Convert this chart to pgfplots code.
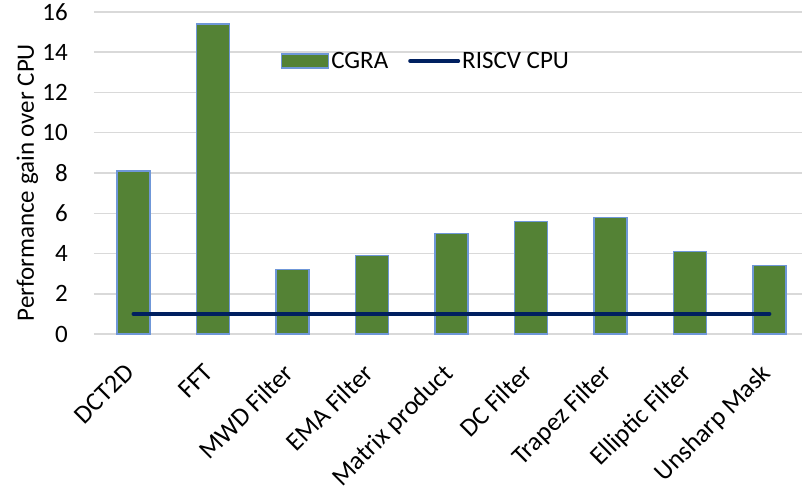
\documentclass[border=0pt]{standalone}
\usepackage{pgfplots}
\pgfplotsset{compat=1.18}
\usepackage{fontspec}
\setmainfont{Carlito}
\definecolor{bargreen}{HTML}{548235}
\definecolor{baredge}{HTML}{6F97D8}
\definecolor{linenavy}{HTML}{002060}
\definecolor{gridgray}{HTML}{D9D9D9}
\begin{document}
\begin{tikzpicture}
\useasboundingbox (-94pt,-153pt) rectangle (708pt,334pt);
\begin{axis}[
  at={(0,0)}, anchor=south west,
  scale only axis,
  width=708pt, height=322pt,
  xmin=-0.497, xmax=8.41,
  ymin=0, ymax=16,
  ytick={0,2,...,16},
  xtick={0,...,8},
  xticklabels={},
  font=\fontsize{25}{30}\selectfont,
  /pgf/number format/assume math mode=true,
  axis line style={draw=none},
  major tick length=0pt,
  ymajorgrids,
  grid style={gridgray, line width=1.5pt},
  yticklabel style={anchor=east, inner sep=0pt, xshift=-26pt},
  ylabel={Performance gain over CPU},
  ylabel style={at={(axis description cs:-0.094,0.47)}, anchor=center, rotate=0},
  legend style={draw=none, fill=none, at={(axis description cs:0.469,0.848)}, anchor=center,
    legend columns=2, /tikz/every even column/.append style={column sep=18pt},
    font=\fontsize{25}{30}\selectfont},
  legend cell align=left,
  clip=false,
]
\addplot[ybar, bar width=33pt, fill=bargreen, draw=baredge, line width=1.2pt,
  legend image code/.code={\draw[fill=bargreen, draw=baredge, line width=1.2pt] (0pt,-7pt) rectangle (47pt,7pt);}]
  coordinates {(0,8.1) (1,15.4) (2,3.2) (3,3.9) (4,5.0) (5,5.6) (6,5.8) (7,4.1) (8,3.4)};
\addlegendentry{CGRA}
\addplot[sharp plot, linenavy, line width=4pt, line cap=round, no markers,
  legend image code/.code={\draw[linenavy, line width=4pt, line cap=round] (0pt,0pt) -- (48pt,0pt);}]
  coordinates {(0,1) (1,1) (2,1) (3,1) (4,1) (5,1) (6,1) (7,1) (8,1)};
\addlegendentry{RISCV CPU}
\foreach \i/\lab in {0/DCT2D,1/FFT,2/MWD Filter,3/EMA Filter,4/Matrix product,5/DC Filter,6/Trapez Filter,7/Elliptic Filter,8/Unsharp Mask}{
  \edef\temp{\noexpand\node[rotate=45, anchor=north east, inner sep=0pt, font=\noexpand\fontsize{26}{30}\noexpand\selectfont] at ([xshift=-10pt,yshift=-28pt]axis cs:\i,0) {\lab};}
  \temp
}
\end{axis}
\end{tikzpicture}
\end{document}
